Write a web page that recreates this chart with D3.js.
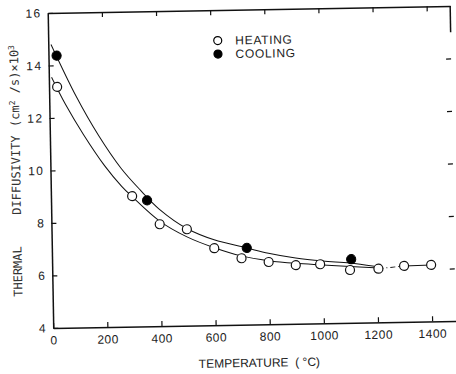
<!DOCTYPE html>
<html><head><meta charset="utf-8">
<script src="https://cdn.jsdelivr.net/npm/d3@7"></script>
<style>html,body{margin:0;padding:0;background:#fff;} svg{display:block;}</style>
</head><body>
<svg id="chart" width="456" height="374"></svg>
<script>
// ---- data ----
const tempTicks = [0, 200, 400, 600, 800, 1000, 1200, 1400];
const diffTicks = [4, 6, 8, 10, 12, 14, 16];
const heatTemp = [30, 300, 400, 500, 600, 700, 800, 900, 990, 1100, 1205, 1300, 1400];
const heatDiff = [13.18, 8.97, 7.88, 7.67, 6.93, 6.53, 6.37, 6.23, 6.25, 6.01, 6.04, 6.13, 6.15];
const coolTemp = [30, 355, 720, 1105];
const coolDiff = [14.37, 8.80, 6.92, 6.42];
const heatFitTemp = [10, 60, 124, 200, 262, 300, 400, 500, 600, 700, 800, 900, 1000, 1100, 1190];
const heatFitDiff = [13.55, 12.5, 11.35, 10.15, 9.35, 8.95, 8.0, 7.38, 6.95, 6.62, 6.42, 6.3, 6.22, 6.14, 6.08];
const coolFitTemp = [10, 100, 180, 260, 330, 400, 500, 600, 720, 800, 900, 1000, 1100, 1190];
const coolFitDiff = [14.8, 12.8, 11.3, 10.05, 9.2, 8.45, 7.7, 7.25, 6.92, 6.7, 6.5, 6.37, 6.28, 6.14];
const legendLabels = ["HEATING", "COOLING"];
const xTitle = "TEMPERATURE  ( °C)";

// ---- drawing ----
const svg = d3.select("#chart");
svg.append("rect").attr("width", 456).attr("height", 374).attr("fill", "#fff");
const g = svg.append("g").attr("transform", "rotate(-1,250,170)");

const x = d3.scaleLinear().domain([0, 1487]).range([50.5, 453]);
const y = d3.scaleLinear().domain([4, 16]).range([324.5, 9.5]);

const tickFont = "'Liberation Sans', Arial, sans-serif";

function styleAxis(sel) {
  sel.select(".domain").attr("stroke", "#111").attr("stroke-width", 1.5);
  sel.selectAll(".tick line").attr("stroke", "#111").attr("stroke-width", 1.2);
  sel.selectAll(".tick text").attr("fill", "#222").style("font-family", tickFont).style("font-size", "12px");
}

// bottom
const axB = g.append("g").attr("transform", `translate(0,${y(4)})`)
  .call(d3.axisBottom(x).tickValues(tempTicks).tickFormat(d3.format("d"))
    .tickSizeInner(-5).tickSizeOuter(0).tickPadding(8));
styleAxis(axB);
axB.selectAll(".tick text").style("letter-spacing", "0.5px");

// top
const axT = g.append("g").attr("transform", `translate(0,${y(16)})`)
  .call(d3.axisTop(x).tickValues(tempTicks.slice(1)).tickSizeInner(-5).tickSizeOuter(0).tickFormat(""));
styleAxis(axT);

// left
const axL = g.append("g").attr("transform", `translate(${x(0)},0)`)
  .call(d3.axisLeft(y).tickValues(diffTicks).tickFormat(d3.format("d"))
    .tickSizeInner(-5).tickSizeOuter(0).tickPadding(6));
styleAxis(axL);
axL.selectAll(".tick text").style("letter-spacing", "1.5px");

// right (faded in the original: only ticks and a short top segment remain)
const axR = g.append("g").attr("transform", `translate(${x(1487)},0)`)
  .call(d3.axisRight(y).tickValues(diffTicks.slice(1, -1)).tickSizeInner(-5).tickSizeOuter(0).tickFormat(""));
styleAxis(axR);
axR.select(".domain").remove();
g.append("line").attr("x1", x(1487)).attr("x2", x(1487)).attr("y1", y(16)).attr("y2", y(15))
  .attr("stroke", "#111").attr("stroke-width", 1.5);

// fitted curves
const line = d3.line().x(d => x(d[0])).y(d => y(d[1])).curve(d3.curveCatmullRom.alpha(0.5));
g.append("path").datum(d3.zip(coolFitTemp, coolFitDiff)).attr("d", line)
  .attr("fill", "none").attr("stroke", "#111").attr("stroke-width", 1);
g.append("path").datum(d3.zip(heatFitTemp, heatFitDiff)).attr("d", line)
  .attr("fill", "none").attr("stroke", "#111").attr("stroke-width", 1);

// tail connecting high-temperature heating points
const heatPts = d3.zip(heatTemp, heatDiff);
const straight = d3.line().x(d => x(d[0])).y(d => y(d[1]));
g.append("path").datum(heatPts.slice(10, 12)).attr("d", straight)
  .attr("fill", "none").attr("stroke", "#111").attr("stroke-width", 1).attr("stroke-dasharray", "5,3,1,3");
g.append("path").datum(heatPts.slice(11, 13)).attr("d", straight)
  .attr("fill", "none").attr("stroke", "#111").attr("stroke-width", 1);

// markers
g.selectAll("circle.heat").data(heatPts).join("circle").attr("class", "heat")
  .attr("cx", d => x(d[0])).attr("cy", d => y(d[1])).attr("r", 4.5)
  .attr("fill", "#fff").attr("stroke", "#111").attr("stroke-width", 1.2);
g.selectAll("circle.cool").data(d3.zip(coolTemp, coolDiff)).join("circle").attr("class", "cool")
  .attr("cx", d => x(d[0])).attr("cy", d => y(d[1])).attr("r", 4.6)
  .attr("fill", "#000").attr("stroke", "#000").attr("stroke-width", 1);

// legend
const leg = g.append("g");
legendLabels.forEach((lab, i) => {
  const cy = 40 + i * 13.5;
  leg.append("circle").attr("cx", 220).attr("cy", cy).attr("r", 4)
    .attr("fill", i === 0 ? "#fff" : "#000").attr("stroke", "#000").attr("stroke-width", 1.2);
  leg.append("text").attr("x", 237.5).attr("y", cy + 4.3).text(lab)
    .attr("fill", "#222").style("font-family", tickFont).style("font-size", "12px")
    .style("letter-spacing", "0.7px");
});

// axis titles
g.append("text").attr("x", 256).attr("y", 367).attr("text-anchor", "middle")
  .attr("fill", "#222").style("font-family", tickFont).style("font-size", "12px")
  .style("white-space", "pre").text(xTitle);

const monoFont = "'DejaVu Sans Mono', monospace";
function yTitlePart(cy) {
  return g.append("text").attr("transform", `translate(16,${cy}) rotate(-90)`)
    .attr("text-anchor", "middle").attr("dy", "0.35em")
    .attr("fill", "#333").style("font-family", monoFont).style("font-size", "12px");
}
yTitlePart(267.5).text("THERMAL");
yTitlePart(171).text("DIFFUSIVITY");
const unit = yTitlePart(82).style("white-space", "pre");
unit.append("tspan").text("(cm");
unit.append("tspan").attr("dy", "-4").style("font-size", "8px").text("2");
unit.append("tspan").attr("dy", "4").text(" /s)×10");
unit.append("tspan").attr("dy", "-4").style("font-size", "8px").text("3");
</script>
</body></html>
